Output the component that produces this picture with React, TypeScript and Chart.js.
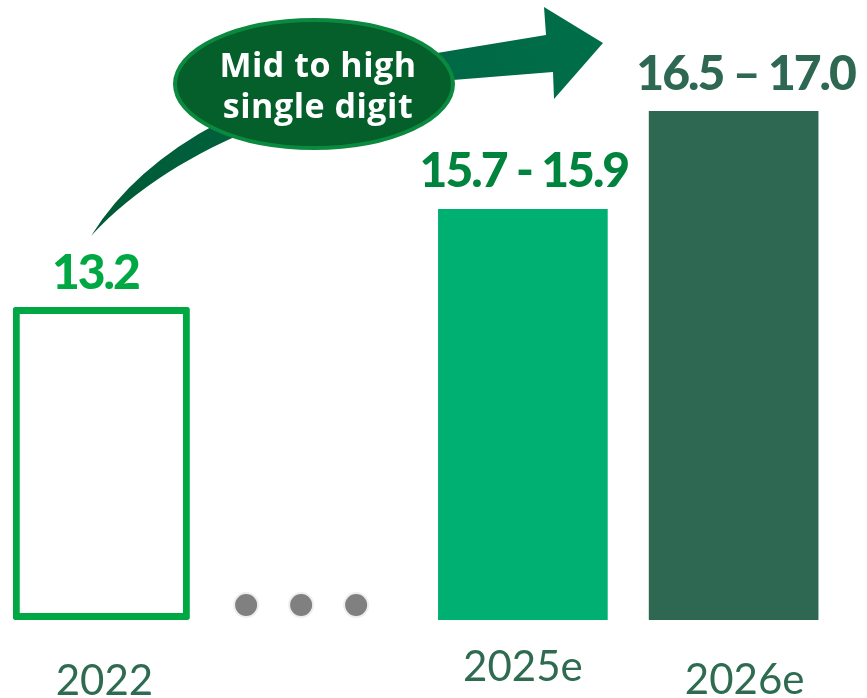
import React, { useEffect, useRef } from "react";
import { Chart, registerables } from "chart.js";

Chart.register(...registerables);

// ---- data ----
const categories: string[] = ["2022", "", "2025e", "2026e"];
// Bar heights as drawn in the (schematic) source picture, on a 0-based axis
const barHeights: (number | null)[] = [13.2, null, 17.33, 21.47];
const valueLabels: string[] = ["13.2", "", "15.7 - 15.9", "16.5 \u2013 17.0"];
const calloutLines: string[] = ["Mid to high", "single digit"];

// ---- styles ----
const outlineGreen = "#00A843";
const barFill = ["#ffffff", "rgba(0,0,0,0)", "#00B072", "#2E6852"];
const valueColors = ["#00A843", "", "#00843D", "#2E6852"];
const catColor = "#2E6B50";
const valueDx = [-6, 0, 1, 12];
const valueGap = [18, 0, 22, 21];
const catDx = [3, 0, 0, 11];
const catBaseline = [695, 0, 681, 694];
const PAGE_SHIFT = 4; // canvas x = page x + PAGE_SHIFT
const CANVAS_W = 871;
const CANVAS_H = 698;

export default function App() {
  const ref = useRef<HTMLCanvasElement | null>(null);

  useEffect(() => {
    if (!ref.current) return;

    const decor = {
      id: "decor",
      afterDatasetsDraw(chart: any) {
        const ctx: CanvasRenderingContext2D = chart.ctx;
        const xs = chart.scales.x;
        const ys = chart.scales.y;
        ctx.save();

        // value labels
        ctx.textAlign = "center";
        ctx.textBaseline = "alphabetic";
        valueLabels.forEach((t, i) => {
          const v = barHeights[i];
          if (!t || v == null) return;
          ctx.font = "900 48px Lato";
          (ctx as any).letterSpacing = "-2px";
          ctx.fillStyle = valueColors[i];
          ctx.fillText(t, xs.getPixelForValue(i) + valueDx[i], ys.getPixelForValue(v) - valueGap[i]);
        });

        // category labels
        (ctx as any).letterSpacing = "0px";
        ctx.font = "42px Lato";
        ctx.fillStyle = catColor;
        categories.forEach((c, i) => {
          if (!c) return;
          ctx.fillText(c, xs.getPixelForValue(i) + catDx[i], catBaseline[i]);
        });

        // ellipsis dots in the gap category
        const gapIdx = categories.indexOf("");
        const cx = xs.getPixelForValue(gapIdx) - 11;
        [-55, 0, 55].forEach((dx) => {
          ctx.beginPath();
          ctx.arc(cx + dx, 605, 12, 0, Math.PI * 2);
          ctx.fillStyle = "#808080";
          ctx.fill();
          ctx.lineWidth = 2;
          ctx.strokeStyle = "#EEEEEE";
          ctx.stroke();
        });

        // curved arrow (page coordinates)
        ctx.translate(PAGE_SHIFT, 0);
        const grad = ctx.createLinearGradient(91, 236, 603, 43);
        grad.addColorStop(0, "#005A36");
        grad.addColorStop(1, "#006E4A");
        ctx.beginPath();
        ctx.moveTo(91, 236);
        ctx.quadraticCurveTo(175, 100, 437, 53);
        ctx.lineTo(546, 35);
        ctx.lineTo(544, 7);
        ctx.lineTo(603, 43);
        ctx.lineTo(554, 99);
        ctx.lineTo(553, 72);
        ctx.lineTo(453, 80);
        ctx.bezierCurveTo(330, 92, 180, 140, 91, 236);
        ctx.closePath();
        ctx.fillStyle = grad;
        ctx.fill();

        // callout ellipse
        ctx.beginPath();
        ctx.ellipse(314, 84, 139, 64, 0, 0, Math.PI * 2);
        ctx.fillStyle = "#045F2B";
        ctx.fill();
        ctx.lineWidth = 4;
        ctx.strokeStyle = "#0B8A3F";
        ctx.stroke();

        ctx.fillStyle = "#FFFFFF";
        ctx.font = "bold 34px 'Open Sans'";
        (ctx as any).letterSpacing = "0.5px";
        ctx.fillText(calloutLines[0], 318, 77);
        ctx.fillText(calloutLines[1], 318, 118);

        ctx.restore();
      },
    };

    const chart = new Chart(ref.current, {
      type: "bar",
      data: {
        labels: categories,
        datasets: [
          {
            data: barHeights.map((v, i) => (i === 0 ? v : null)),
            backgroundColor: barFill,
            borderColor: outlineGreen,
            borderWidth: 7,
            borderSkipped: false,
            borderRadius: 2,
            barPercentage: 0.84,
            categoryPercentage: 1,
            grouped: false,
          } as any,
          {
            data: barHeights.map((v, i) => (i === 0 ? null : v)),
            backgroundColor: barFill,
            borderWidth: 0,
            barPercentage: 0.805,
            categoryPercentage: 1,
            grouped: false,
          } as any,
        ],
      },
      options: {
        animation: false,
        responsive: false,
        layout: { padding: { left: 0, right: CANVAS_W - 843, top: 0, bottom: 78 } },
        plugins: { legend: { display: false }, tooltip: { enabled: false } },
        scales: {
          x: { display: false, grid: { display: false } },
          y: { display: false, min: 0, max: 26.15, grid: { display: false } },
        },
      },
      plugins: [decor],
    });
    return () => chart.destroy();
  }, []);

  return (
    <div style={{ position: "fixed", left: -PAGE_SHIFT, top: 0, width: CANVAS_W, height: CANVAS_H, background: "#fff" }}>
      <canvas ref={ref} width={CANVAS_W} height={CANVAS_H} />
    </div>
  );
}
